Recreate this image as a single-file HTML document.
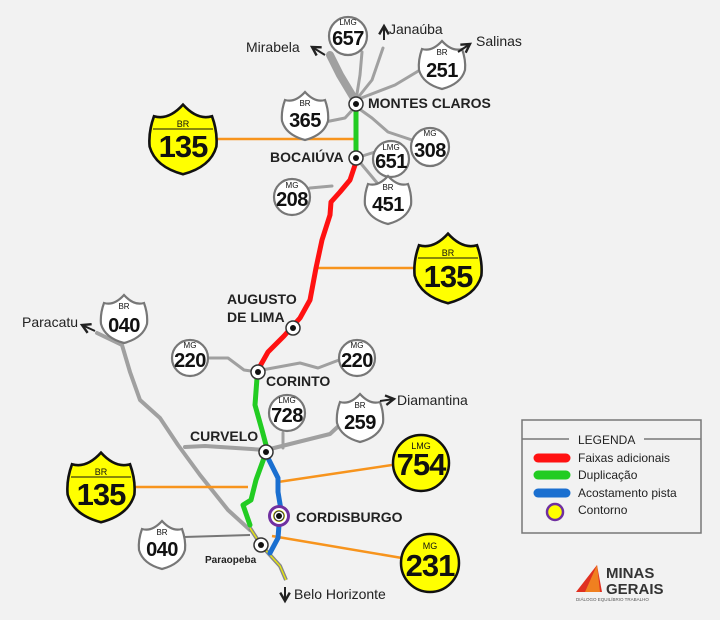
<!DOCTYPE html>
<html><head><meta charset="utf-8"><style>
html,body{margin:0;padding:0;background:#f2f2f2}
svg{display:block}
text{font-family:"Liberation Sans","DejaVu Sans",sans-serif}
</style></head><body>
<svg width="720" height="620" viewBox="0 0 720 620" xmlns="http://www.w3.org/2000/svg">
<defs>
<path id="sh" d="M-20,-15 Q-10,-12 0,-23 Q10,-12 20,-15 Q24,-4 23,6 Q19,20 0,25 Q-19,20 -23,6 Q-24,-4 -20,-15 Z"/>
<marker id="ar" viewBox="0 0 10 10" refX="8" refY="5" markerWidth="6" markerHeight="6" orient="auto"><path d="M1,1 L8,5 L1,9" fill="none" stroke="#222" stroke-width="2"/></marker>
</defs>
<rect width="720" height="620" fill="#f2f2f2"/>
<g fill="none" stroke="#a0a0a0" stroke-linecap="round" stroke-linejoin="round">
<path d="M355,100 L340,75 L330,55" stroke-width="8"/>
<path d="M356,100 L360,75 L362,52" stroke-width="3"/>
<path d="M356,100 L372,80 L383,48" stroke-width="3"/>
<path d="M356,100 L395,85 L420,70" stroke-width="3"/>
<path d="M325,122 L345,118 L356,106" stroke-width="3"/>
<path d="M358,108 L372,118 L388,132 L412,140" stroke-width="3"/>
<path d="M356,158 L375,152" stroke-width="3"/>
<path d="M358,160 L373,178 L378,184" stroke-width="3"/>
<path d="M310,188 L332,186" stroke-width="3"/>
<path d="M208,358 L228,358 L244,370 L258,372" stroke-width="3"/>
<path d="M339,360 L318,368 L300,363 L262,370" stroke-width="3"/>
<path d="M97,333 L122,345 L130,372 L140,400 L160,418 L178,445 L200,475 L228,510 L250,530" stroke-width="4"/>
<path d="M185,447 L205,446 L266,450 L330,434 L345,420" stroke-width="4"/>
<path d="M283,433 L283,448" stroke-width="3"/>
</g>
<g stroke="#f7941d" stroke-width="2.5">
<line x1="210" y1="139" x2="356" y2="139"/>
<line x1="316" y1="268" x2="420" y2="268"/>
<line x1="134" y1="487" x2="248" y2="487"/>
<line x1="278" y1="482" x2="392" y2="465"/>
<line x1="272" y1="536" x2="402" y2="558"/>
</g>
<line x1="184" y1="537" x2="250" y2="535" stroke="#777" stroke-width="2"/>
<path d="M250,528 L261,545 L280,566 L286,580" fill="none" stroke="#888" stroke-width="4"/>
<path d="M250,528 L261,545 L280,566 L286,580" fill="none" stroke="#ee0" stroke-width="1.2"/>
<g fill="none" stroke-width="5" stroke-linecap="round" stroke-linejoin="round">
<path d="M356,110 L356,156" stroke="#22cc22"/>
<path d="M356,162 L350,180 L340,192 L331,202 L330,215 L322,240 L316,268 L310,300 L300,318 L284,336 L268,352 L259,368" stroke="#ff1111"/>
<path d="M257,378 L255,405 L262,430 L266,445" stroke="#22cc22"/>
<path d="M264,458 L256,480 L251,500 L243,505 L250,525" stroke="#22cc22"/>
<path d="M268,458 L278,478 L278,492 L281,510 M279,525 L278,538 L270,553" stroke="#1a6fd0"/>
</g>
<g fill="#fff" stroke="#333" stroke-width="1.5">
<circle cx="356" cy="104" r="7"/><circle cx="356" cy="158" r="7"/>
<circle cx="293" cy="328" r="7"/><circle cx="258" cy="372" r="7"/>
<circle cx="266" cy="452" r="7"/><circle cx="261" cy="545" r="7"/>
</g>
<circle cx="279" cy="516" r="11" fill="#7030a0"/><circle cx="279" cy="516" r="8" fill="#fff"/><circle cx="279" cy="516" r="6" fill="#ee0"/><circle cx="279" cy="516" r="5" fill="#fff" stroke="#333"/>
<g fill="#111"><circle cx="356" cy="104" r="3"/><circle cx="356" cy="158" r="3"/><circle cx="293" cy="328" r="3"/><circle cx="258" cy="372" r="3"/><circle cx="266" cy="452" r="3"/><circle cx="261" cy="545" r="3"/><circle cx="279" cy="516" r="3"/></g>
<g fill="#fff" stroke="#777" stroke-width="2.2">
<circle cx="348" cy="36" r="19"/><circle cx="430" cy="147" r="19"/><circle cx="391" cy="159" r="18"/>
<circle cx="292" cy="197" r="18"/><circle cx="190" cy="358" r="18"/><circle cx="357" cy="358" r="18"/><circle cx="287" cy="413" r="18"/>
</g>
<g fill="#fff" stroke="#777" stroke-width="2.2">
<use href="#sh" x="442" y="64"/><use href="#sh" x="305" y="115"/><use href="#sh" x="388" y="199"/>
<use href="#sh" x="124" y="318"/><use href="#sh" x="360" y="417"/><use href="#sh" x="162" y="544"/>
</g>
<g fill="#ffff00" stroke="#111" stroke-width="2">
<g transform="translate(183,138) scale(1.45)"><use href="#sh" stroke-width="1.8"/></g>
<g transform="translate(448,267) scale(1.45)"><use href="#sh" stroke-width="1.8"/></g>
<g transform="translate(101,486) scale(1.45)"><use href="#sh" stroke-width="1.8"/></g>
<circle cx="421" cy="463" r="28" stroke-width="2.5"/><circle cx="430" cy="563" r="29" stroke-width="2.5"/>
</g>
<g stroke="#111" stroke-width="1"><line x1="153" y1="129" x2="213" y2="129"/><line x1="418" y1="258" x2="478" y2="258"/><line x1="71" y1="477" x2="131" y2="477"/></g>
<g text-anchor="middle" fill="#111" font-weight="bold">
<g font-size="8" font-weight="normal"><text x="348" y="25">LMG</text><text x="442" y="55">BR</text><text x="305" y="106">BR</text><text x="430" y="136">MG</text><text x="391" y="150">LMG</text><text x="388" y="190">BR</text><text x="292" y="188">MG</text>
<text x="124" y="309">BR</text><text x="190" y="348">MG</text><text x="357" y="348">MG</text><text x="287" y="403">LMG</text><text x="360" y="408">BR</text><text x="162" y="535">BR</text></g>
<g font-size="20" letter-spacing="-0.5"><text x="348" y="45">657</text><text x="442" y="77">251</text><text x="305" y="127">365</text><text x="430" y="157">308</text><text x="391" y="168">651</text><text x="388" y="211">451</text><text x="292" y="206">208</text>
<text x="124" y="332">040</text><text x="190" y="367">220</text><text x="357" y="367">220</text><text x="287" y="422">728</text><text x="360" y="429">259</text><text x="162" y="556">040</text></g>
<g font-size="9" font-weight="normal"><text x="183" y="127">BR</text><text x="448" y="256">BR</text><text x="101" y="475">BR</text><text x="421" y="449">LMG</text><text x="430" y="549">MG</text></g>
<g font-size="31" letter-spacing="-1"><text x="183" y="157">135</text><text x="448" y="287">135</text><text x="101" y="505">135</text><text x="421" y="475">754</text><text x="430" y="576">231</text></g>
</g>
<g fill="#222" font-weight="bold" font-size="14">
<text x="368" y="108">MONTES CLAROS</text><text x="270" y="162">BOCAIÚVA</text>
<text x="227" y="304">AUGUSTO</text><text x="227" y="322">DE LIMA</text>
<text x="266" y="386">CORINTO</text><text x="190" y="441">CURVELO</text><text x="296" y="522">CORDISBURGO</text>
<text x="205" y="563" font-size="10">Paraopeba</text>
</g>
<g fill="#222" font-size="14">
<text x="246" y="52">Mirabela</text><text x="389" y="34">Janaúba</text><text x="476" y="46">Salinas</text>
<text x="22" y="327">Paracatu</text><text x="397" y="405">Diamantina</text><text x="294" y="599">Belo Horizonte</text>
</g>
<g stroke="#222" stroke-width="2" fill="none" marker-end="url(#ar)">
<line x1="325" y1="55" x2="312" y2="47"/><line x1="384" y1="40" x2="384" y2="26"/><line x1="458" y1="52" x2="470" y2="44"/>
<line x1="95" y1="331" x2="82" y2="325"/><line x1="380" y1="401" x2="394" y2="399"/><line x1="285" y1="587" x2="285" y2="601"/>
</g>
<rect x="522" y="420" width="179" height="113" fill="none" stroke="#777" stroke-width="1.5"/>
<line x1="522" y1="439" x2="569" y2="439" stroke="#777" stroke-width="1.5"/><line x1="644" y1="439" x2="701" y2="439" stroke="#777" stroke-width="1.5"/>
<g font-size="12" fill="#222"><text x="578" y="444">LEGENDA</text><text x="578" y="462">Faixas adicionais</text><text x="578" y="479">Duplicação</text><text x="578" y="497">Acostamento pista</text><text x="578" y="514">Contorno</text></g>
<g stroke-width="9" stroke-linecap="round"><line x1="538" y1="458" x2="566" y2="458" stroke="#ff1111"/><line x1="538" y1="475" x2="566" y2="475" stroke="#22cc22"/><line x1="538" y1="493" x2="566" y2="493" stroke="#1a6fd0"/></g>
<circle cx="555" cy="512" r="8" fill="#ffff00" stroke="#7030a0" stroke-width="2.5"/>
<path d="M576,592 L597,565 L602,592 Z" fill="#e03020"/><path d="M585,592 L597,565 L600,592 Z" fill="#f08020"/>
<g fill="#333" font-weight="bold" font-size="15"><text x="606" y="578">MINAS</text><text x="606" y="594">GERAIS</text></g>
<text x="576" y="601" font-size="4.5" fill="#555">DIÁLOGO EQUILÍBRIO TRABALHO</text>
</svg>
</body></html>
